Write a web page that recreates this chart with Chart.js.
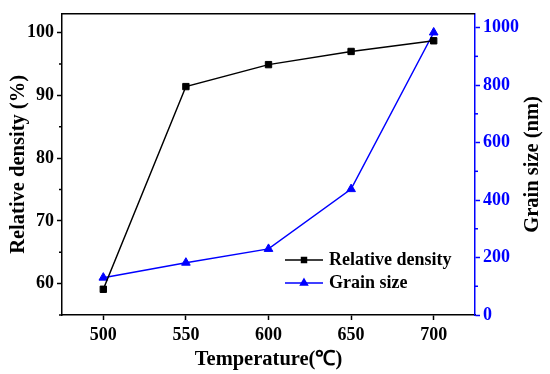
<!DOCTYPE html>
<html>
<head>
<meta charset="utf-8">
<script src="https://cdn.jsdelivr.net/npm/chart.js@4.4.0/dist/chart.umd.min.js"></script>
<style>
  html, body { margin: 0; padding: 0; background: #fff; }
  #wrap { width: 550px; height: 374px; }
</style>
</head>
<body>
<div id="wrap"><canvas id="c" width="550" height="374"></canvas></div>
<script>
var temps = [500, 550, 600, 650, 700];
var density = [59.1, 91.4, 94.9, 97.0, 98.7];
var grain = [130, 182, 230, 438, 983];

var densityTicks = [60, 70, 80, 90, 100];
var densityMinor = [55, 65, 75, 85, 95];
var grainTicks = [0, 200, 400, 600, 800, 1000];
var grainMinor = [100, 300, 500, 700, 900];
var tempTicks = [500, 550, 600, 650, 700];

var BLUE = '#0000ff';
var FONT = '"Liberation Serif", "Times New Roman", serif';

function pts(xs, ys) {
  return xs.map(function (x, i) { return { x: x, y: ys[i] }; });
}
function fixTicks(vals) {
  return function (axis) { axis.ticks = vals.map(function (v) { return { value: v }; }); };
}
function plain(v) { return String(v); }

// frame top line, minor ticks, right title and the legend
var extras = {
  id: 'extras',
  afterDraw: function (chart) {
    var ctx = chart.ctx, a = chart.chartArea;
    var y1 = chart.scales.y, y2 = chart.scales.y2;
    ctx.save();
    ctx.lineWidth = 1.5;
    ctx.strokeStyle = '#000';
    ctx.beginPath();
    ctx.moveTo(a.left, a.top);
    ctx.lineTo(a.right, a.top);
    ctx.stroke();

    densityMinor.forEach(function (v) {
      var p = y1.getPixelForValue(v);
      ctx.beginPath(); ctx.moveTo(a.left - 3, p); ctx.lineTo(a.left, p); ctx.stroke();
    });
    ctx.strokeStyle = BLUE;
    grainMinor.forEach(function (v) {
      var p = y2.getPixelForValue(v);
      ctx.beginPath(); ctx.moveTo(a.right, p); ctx.lineTo(a.right + 3, p); ctx.stroke();
    });

    // right axis title, reading bottom to top like the left one
    ctx.save();
    ctx.translate(533, (a.top + a.bottom) / 2);
    ctx.rotate(-Math.PI / 2);
    ctx.fillStyle = '#000';
    ctx.font = 'bold 20.5px ' + FONT;
    ctx.textAlign = 'center';
    ctx.textBaseline = 'middle';
    ctx.fillText('Grain size (nm)', 0, 0);
    ctx.restore();

    // legend
    var items = chart.data.datasets;
    var lx = 285, ly = 260;
    items.forEach(function (ds, i) {
      var yy = ly + i * 23;
      ctx.strokeStyle = ds.borderColor;
      ctx.fillStyle = ds.borderColor;
      ctx.lineWidth = 1.5;
      ctx.beginPath(); ctx.moveTo(lx, yy); ctx.lineTo(lx + 38, yy); ctx.stroke();
      Chart.helpers.drawPoint(ctx, { pointStyle: ds.pointStyle, radius: ds.pointRadius - 1, borderWidth: 1 }, lx + 19, yy);
      ctx.fillStyle = '#000';
      ctx.font = 'bold 18px ' + FONT;
      ctx.textAlign = 'left';
      ctx.textBaseline = 'middle';
      ctx.fillText(ds.label, lx + 44, yy);
    });
    ctx.restore();
  }
};

new Chart(document.getElementById('c'), {
  type: 'line',
  data: {
    datasets: [{
      label: 'Relative density',
      data: pts(temps, density),
      yAxisID: 'y',
      borderColor: '#000',
      backgroundColor: '#000',
      borderWidth: 1.5,
      pointStyle: 'rect',
      pointRadius: 4.5,
      pointBorderWidth: 1,
      tension: 0
    }, {
      label: 'Grain size',
      data: pts(temps, grain),
      yAxisID: 'y2',
      borderColor: BLUE,
      backgroundColor: BLUE,
      borderWidth: 1.5,
      pointStyle: 'triangle',
      pointRadius: 5,
      pointBorderWidth: 1,
      tension: 0
    }]
  },
  options: {
    responsive: false,
    animation: false,
    layout: { padding: { top: 9 } },
    plugins: { legend: { display: false }, tooltip: { enabled: false } },
    scales: {
      x: {
        type: 'linear',
        min: 475, max: 725,
        afterBuildTicks: fixTicks(tempTicks),
        afterFit: function (s) { s.height = 59; },
        grid: { drawOnChartArea: false, tickLength: 5, tickWidth: 1.5, tickColor: '#000' },
        border: { color: '#000', width: 1.5 },
        ticks: { color: '#000', padding: 5, callback: plain, font: { family: FONT, size: 18, weight: 'bold' } },
        title: { display: true, text: 'Temperature(℃)', color: '#000', padding: { top: 0, bottom: 2 },
                 font: { family: FONT, size: 20.5, weight: 'bold' } }
      },
      y: {
        position: 'left',
        min: 55, max: 103,
        afterBuildTicks: fixTicks(densityTicks),
        afterFit: function (s) { s.width = 62; },
        grid: { drawOnChartArea: false, tickLength: 5, tickWidth: 1.5, tickColor: '#000' },
        border: { color: '#000', width: 1.5 },
        ticks: { color: '#000', padding: 3, callback: plain, font: { family: FONT, size: 18, weight: 'bold' } },
        title: { display: true, text: 'Relative density (%)', color: '#000', padding: { top: 6, bottom: 0 },
                 font: { family: FONT, size: 20.5, weight: 'bold' } }
      },
      y2: {
        position: 'right',
        min: 0, max: 1048,
        afterBuildTicks: fixTicks(grainTicks),
        afterFit: function (s) { s.width = 75; },
        grid: { drawOnChartArea: false, tickLength: 5, tickWidth: 1.5, tickColor: BLUE },
        border: { color: BLUE, width: 1.5 },
        ticks: { color: BLUE, padding: 3, callback: plain, font: { family: FONT, size: 18, weight: 'bold' } },
        title: { display: false }
      }
    }
  },
  plugins: [extras]
});
</script>
</body>
</html>
